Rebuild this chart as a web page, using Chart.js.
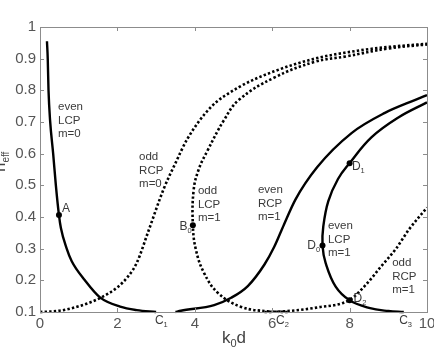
<!DOCTYPE html>
<html>
<head>
<meta charset="utf-8">
<script src="https://cdn.jsdelivr.net/npm/chart.js@4.4.1/dist/chart.umd.min.js"></script>
<style>
html,body{margin:0;padding:0;background:#fff;}
#wrap{position:relative;width:434px;height:350px;}
</style>
</head>
<body>
<div id="wrap"><canvas id="c" width="434" height="350"></canvas></div>
<script>
// ---- data ----
const evenLcpM0X = [0.18,0.2,0.22,0.26,0.34,0.41,0.49,0.54,0.69,0.82,1.16,1.55,2.07,2.5,3.0];
const evenLcpM0Y = [0.955,0.9,0.8,0.706,0.6,0.5,0.406,0.365,0.3,0.26,0.2,0.146,0.117,0.106,0.1];

const oddRcpM0X = [0,0.5,1.0,1.55,2.0,2.26,2.5,2.8,3.2,3.5,3.8,4.4,5.14,6.05,7.1,8.2,9.0,10];
const oddRcpM0Y = [0.1,0.104,0.118,0.144,0.178,0.21,0.255,0.355,0.49,0.57,0.645,0.745,0.81,0.86,0.9,0.925,0.937,0.947];

const oddLcpM1X = [6.4,5.9,5.2,4.6,4.24,4.03,3.95,3.97,4.1,4.33,4.75,5.14,6.05,7.1,7.9,9.0,10];
const oddLcpM1Y = [0.1,0.102,0.116,0.16,0.223,0.296,0.374,0.485,0.55,0.61,0.705,0.77,0.84,0.89,0.907,0.932,0.945];

const evenRcpM1X = [3.5,3.64,4.5,4.94,5.37,5.8,6.05,6.3,6.6,7.16,8.05,8.9,9.7,10];
const evenRcpM1Y = [0.1,0.104,0.122,0.145,0.182,0.25,0.305,0.375,0.455,0.557,0.665,0.728,0.77,0.785];

const evenLcpM1X = [9.4,9.0,8.5,8.0,7.64,7.38,7.3,7.32,7.45,7.7,8.0,8.57,9.27,10];
const evenLcpM1Y = [0.1,0.103,0.113,0.137,0.18,0.255,0.31,0.37,0.45,0.52,0.57,0.652,0.715,0.762];

const oddRcpM1X = [5.8,6.3,7.2,8.0,8.45,8.8,9.2,9.53,10];
const oddRcpM1Y = [0.1,0.102,0.115,0.138,0.19,0.242,0.3,0.36,0.43];

const markerNames = ["A","B0","D0","D1","D2"];
const markerX = [0.49,3.95,7.3,8.0,8.0];
const markerY = [0.406,0.374,0.31,0.57,0.137];

const xTicks = [0,2,4,6,8,10];
const yTicks = [0.1,0.2,0.3,0.4,0.5,0.6,0.7,0.8,0.9,1];

// curve annotations: text lines, anchor in data units
const curveLabels = [
  {lines:["even","LCP","m=0"], x:0.465, y:0.747},
  {lines:["odd","RCP","m=0"], x:2.56, y:0.589},
  {lines:["odd","LCP","m=1"], x:4.08, y:0.482},
  {lines:["even","RCP","m=1"], x:5.63, y:0.485},
  {lines:["even","LCP","m=1"], x:7.44, y:0.372},
  {lines:["odd","RCP","m=1"], x:9.1, y:0.255}
];
// point labels: main letter, subscript, anchor, alignment
const pointLabels = [
  {t:"A", s:"", x:0.57, y:0.425, align:"left"},
  {t:"B", s:"0", x:3.92, y:0.37, align:"right"},
  {t:"D", s:"0", x:7.24, y:0.31, align:"right"},
  {t:"D", s:"1", x:8.06, y:0.558, align:"left"},
  {t:"D", s:"2", x:8.1, y:0.142, align:"left"},
  {t:"C", s:"1", x:2.97, y:0.072, align:"left"},
  {t:"C", s:"2", x:6.1, y:0.072, align:"left"},
  {t:"C", s:"3", x:9.28, y:0.072, align:"left"}
];

function pts(xs, ys){ return xs.map((x,i)=>({x:x, y:ys[i]})); }

const FONT = "'Liberation Sans', Arial, sans-serif";

const solid = (label, xs, ys, mono) => ({
  label, data: pts(xs, ys), showLine: true, borderColor:'#000', borderWidth:2.4,
  pointRadius:0, tension:0.4, cubicInterpolationMode: mono ? 'monotone' : 'default', fill:false
});
const dotted = (label, xs, ys, mono) => ({
  label, data: pts(xs, ys), showLine: true, borderColor:'#000', borderWidth:2.6,
  borderDash:[2.4,2.2], borderCapStyle:'butt', pointRadius:0, tension:0.4,
  cubicInterpolationMode: mono ? 'monotone' : 'default', fill:false
});

const decor = {
  id:'decor',
  afterDatasetsDraw(chart){
    const ctx = chart.ctx;
    const xs = chart.scales.x, ys = chart.scales.y;
    const a = chart.chartArea;
    ctx.save();
    // box
    ctx.strokeStyle = '#8c8c8c';
    ctx.lineWidth = 1;
    ctx.strokeRect(a.left+0.5, a.top+0.5, a.right-a.left, a.bottom-a.top);
    // inward ticks
    ctx.beginPath();
    xTicks.forEach(v=>{
      const px = Math.round(xs.getPixelForValue(v))+0.5;
      ctx.moveTo(px, a.bottom); ctx.lineTo(px, a.bottom-4);
      ctx.moveTo(px, a.top); ctx.lineTo(px, a.top+4);
    });
    yTicks.forEach(v=>{
      const py = Math.round(ys.getPixelForValue(v))+0.5;
      ctx.moveTo(a.left, py); ctx.lineTo(a.left+4, py);
      ctx.moveTo(a.right, py); ctx.lineTo(a.right-4, py);
    });
    ctx.stroke();

    // curve labels
    ctx.fillStyle = '#3a3a3a';
    ctx.font = '11.5px ' + FONT;
    ctx.textBaseline = 'middle';
    ctx.textAlign = 'left';
    curveLabels.forEach(l=>{
      const px = xs.getPixelForValue(l.x), py = ys.getPixelForValue(l.y);
      l.lines.forEach((t,i)=> ctx.fillText(t, px, py + i*13.5));
    });
    // point labels with subscripts
    pointLabels.forEach(l=>{
      let px = xs.getPixelForValue(l.x), py = ys.getPixelForValue(l.y);
      ctx.font = '12px ' + FONT;
      const w1 = ctx.measureText(l.t).width;
      ctx.font = '7.5px ' + FONT;
      const w2 = l.s ? ctx.measureText(l.s).width : 0;
      if (l.align === 'right') px -= (w1 + w2);
      ctx.textAlign = 'left';
      ctx.font = '12px ' + FONT;
      ctx.fillText(l.t, px, py);
      if (l.s){ ctx.font = '7.5px ' + FONT; ctx.fillText(l.s, px + w1, py + 4); }
    });
    // x axis title k0d
    ctx.fillStyle = '#444';
    ctx.textBaseline = 'alphabetic';
    ctx.font = '17px ' + FONT;
    let tx = 222, ty = 343;
    ctx.fillText('k', tx, ty);
    tx += ctx.measureText('k').width;
    ctx.font = '11px ' + FONT;
    ctx.fillText('0', tx, ty + 4);
    tx += ctx.measureText('0').width;
    ctx.font = '17px ' + FONT;
    ctx.fillText('d', tx, ty);
    // y axis title n_eff (rotated, partly cut at left edge)
    ctx.save();
    ctx.translate(5, 172);
    ctx.rotate(-Math.PI/2);
    ctx.font = '17px ' + FONT;
    ctx.fillText('n', 0, 0);
    const wn = ctx.measureText('n').width;
    ctx.font = '10px ' + FONT;
    ctx.fillText('eff', wn, 4);
    ctx.restore();
    ctx.restore();
  }
};

new Chart(document.getElementById('c'), {
  type: 'scatter',
  data: {
    datasets: [
      solid('even LCP m=0', evenLcpM0X, evenLcpM0Y, true),
      dotted('odd RCP m=0', oddRcpM0X, oddRcpM0Y, true),
      dotted('odd LCP m=1', oddLcpM1X, oddLcpM1Y, false),
      solid('even RCP m=1', evenRcpM1X, evenRcpM1Y, true),
      solid('even LCP m=1', evenLcpM1X, evenLcpM1Y, false),
      dotted('odd RCP m=1', oddRcpM1X, oddRcpM1Y, true),
      { label:'points', data: pts(markerX, markerY), showLine:false,
        pointRadius:3, pointBackgroundColor:'#000', pointBorderColor:'#000', pointBorderWidth:0 }
    ]
  },
  options: {
    responsive: false,
    animation: false,
    clip: false,
    layout: { padding: { top: 27, right: 7, left: 0, bottom: 0 } },
    plugins: { legend: { display:false }, tooltip: { enabled:false } },
    scales: {
      x: {
        type:'linear', min:0, max:10,
        afterBuildTicks(s){ s.ticks = xTicks.map(v=>({value:v})); },
        afterFit(s){ s.height = 38; s.paddingLeft = 0; s.paddingRight = 0; },
        grid: { display:false, drawTicks:false },
        border: { display:false },
        ticks: { color:'#555', font:{ size:15, family:FONT }, padding:3, maxRotation:0, autoSkip:false,
                 callback:(v)=>String(v) }
      },
      y: {
        type:'linear', min:0.1, max:1,
        afterBuildTicks(s){ s.ticks = yTicks.map(v=>({value:v})); },
        afterFit(s){ s.width = 40; s.paddingTop = 0; s.paddingBottom = 0; },
        grid: { display:false, drawTicks:false },
        border: { display:false },
        ticks: { color:'#555', font:{ size:15, family:FONT }, padding:4, autoSkip:false,
                 callback:(v)=> (Math.round(v*10)/10).toString() }
      }
    }
  },
  plugins: [decor]
});
</script>
</body>
</html>
